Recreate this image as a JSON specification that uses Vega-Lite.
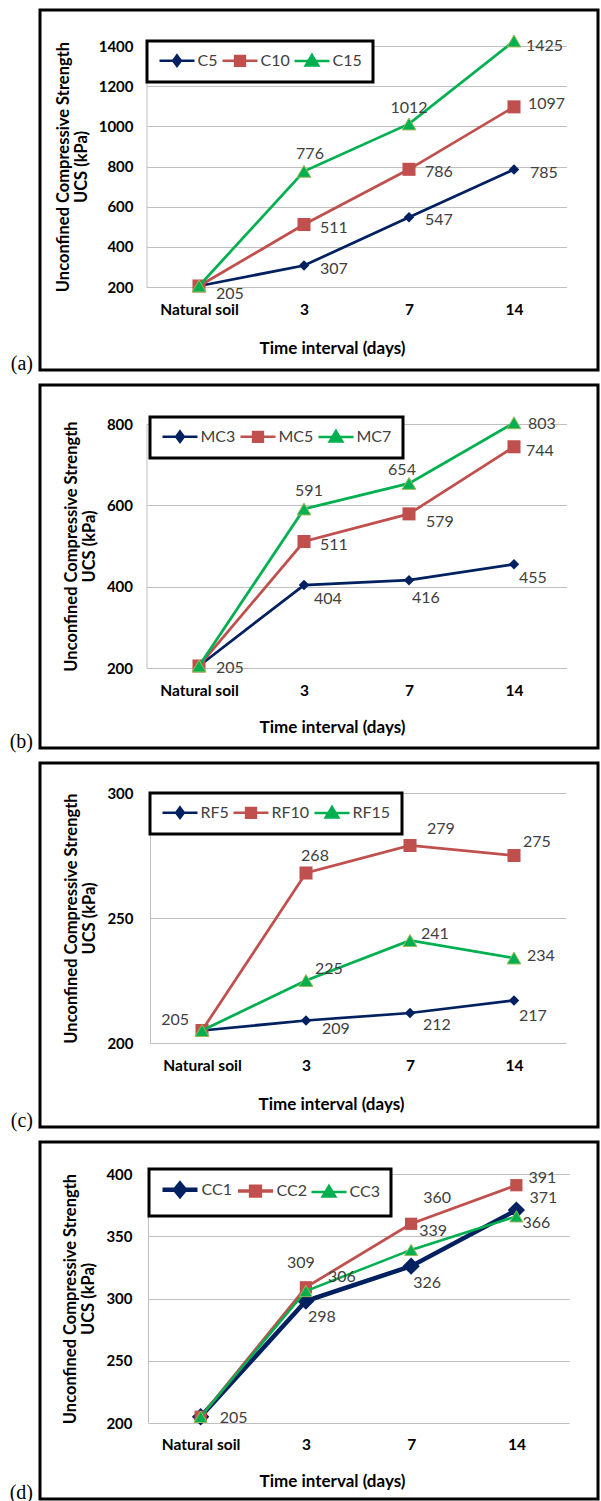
{
  "$schema": "https://vega.github.io/schema/vega-lite/v6.json",
  "padding": {"left": 8, "top": 8, "right": 0, "bottom": 0},
  "background": "white",
  "bounds": "flush",
  "spacing": 15,
  "resolve": {
    "scale": {"x": "independent", "y": "independent", "fill": "independent", "stroke": "independent", "shape": "independent", "strokeWidth": "independent"},
    "legend": {"fill": "independent", "stroke": "independent", "shape": "independent", "strokeWidth": "independent"}
  },
  "datasets": {
    "a": [
      {"s": "C5", "t": "Natural soil", "v": 205}, {"s": "C5", "t": "3", "v": 307}, {"s": "C5", "t": "7", "v": 547}, {"s": "C5", "t": "14", "v": 785},
      {"s": "C10", "t": "Natural soil", "v": 205}, {"s": "C10", "t": "3", "v": 511}, {"s": "C10", "t": "7", "v": 786}, {"s": "C10", "t": "14", "v": 1097},
      {"s": "C15", "t": "Natural soil", "v": 205}, {"s": "C15", "t": "3", "v": 776}, {"s": "C15", "t": "7", "v": 1012}, {"s": "C15", "t": "14", "v": 1425}
    ],
    "b": [
      {"s": "MC3", "t": "Natural soil", "v": 205}, {"s": "MC3", "t": "3", "v": 404}, {"s": "MC3", "t": "7", "v": 416}, {"s": "MC3", "t": "14", "v": 455},
      {"s": "MC5", "t": "Natural soil", "v": 205}, {"s": "MC5", "t": "3", "v": 511}, {"s": "MC5", "t": "7", "v": 579}, {"s": "MC5", "t": "14", "v": 744},
      {"s": "MC7", "t": "Natural soil", "v": 205}, {"s": "MC7", "t": "3", "v": 591}, {"s": "MC7", "t": "7", "v": 654}, {"s": "MC7", "t": "14", "v": 803}
    ],
    "c": [
      {"s": "RF5", "t": "Natural soil", "v": 205}, {"s": "RF5", "t": "3", "v": 209}, {"s": "RF5", "t": "7", "v": 212}, {"s": "RF5", "t": "14", "v": 217},
      {"s": "RF10", "t": "Natural soil", "v": 205}, {"s": "RF10", "t": "3", "v": 268}, {"s": "RF10", "t": "7", "v": 279}, {"s": "RF10", "t": "14", "v": 275},
      {"s": "RF15", "t": "Natural soil", "v": 205}, {"s": "RF15", "t": "3", "v": 225}, {"s": "RF15", "t": "7", "v": 241}, {"s": "RF15", "t": "14", "v": 234}
    ],
    "d": [
      {"s": "CC1", "t": "Natural soil", "v": 205}, {"s": "CC1", "t": "3", "v": 298}, {"s": "CC1", "t": "7", "v": 326}, {"s": "CC1", "t": "14", "v": 371},
      {"s": "CC2", "t": "Natural soil", "v": 205}, {"s": "CC2", "t": "3", "v": 309}, {"s": "CC2", "t": "7", "v": 360}, {"s": "CC2", "t": "14", "v": 391},
      {"s": "CC3", "t": "Natural soil", "v": 205}, {"s": "CC3", "t": "3", "v": 306}, {"s": "CC3", "t": "7", "v": 339}, {"s": "CC3", "t": "14", "v": 366}
    ]
  },
  "config": {
    "view": {"stroke": "black", "strokeWidth": 3, "fill": "white"},
    "axis": {
      "labelFont": "Lato", "labelFontWeight": "bold", "labelFontSize": 15, "labelColor": "#000000",
      "titleFont": "Lato", "titleFontWeight": "bold", "titleFontSize": 16, "titleColor": "#000000",
      "gridColor": "#BFBFBF", "gridWidth": 1, "domainColor": "#BFBFBF", "domainWidth": 1,
      "ticks": false, "tickSize": 0, "titleLineHeight": 18
    },
    "axisX": {"labelFontSize": 15.5, "titleFontSize": 17},
    "axisY": {"titleFontSize": 16.5, "format": "d"},
    "legend": {"title": null, "orient": "none", "direction": "horizontal", "padding": 11, "strokeColor": "black", "fillColor": "white", "cornerRadius": 0, "symbolSize": 196, "symbolStrokeWidth": 2.5, "symbolOffset": 10.5, "labelOffset": 12, "columnPadding": -1, "labelFont": "Lato", "labelFontSize": 16, "labelColor": "#404040", "symbolOpacity": 1},
    "text": {"font": "Lato", "fontSize": 16, "color": "#404040"},
    "title": {"font": "Liberation Serif", "fontSize": 20, "fontWeight": "normal", "color": "#000000"}
  },
  "vconcat": [
    {
      "width": 558, "height": 360,
      "title": {"text": "(a)", "orient": "left", "anchor": "start", "angle": 0, "align": "left", "baseline": "alphabetic", "offset": 7},
      "data": {"name": "a"},
      "encoding": {
        "x": {"field": "t", "type": "nominal", "sort": ["Natural soil", "3", "7", "14"],
          "scale": {"type": "point", "domain": ["Natural soil", "3", "7", "14"], "range": [106.5, 526.5], "padding": 0.5},
          "axis": {"title": "Time interval (days)", "offset": -83, "grid": false, "domain": false, "labelPadding": 15, "labelAngle": 0, "titleX": 292, "titleY": 61, "titleBaseline": "middle"}},
        "y": {"field": "v", "type": "quantitative",
          "scale": {"domain": [200, 1400], "range": [277, 36], "nice": false, "zero": false},
          "axis": {"title": ["Unconfined Compressive Strength", "UCS (kPa)"], "offset": -106.5, "values": [200, 400, 600, 800, 1000, 1200, 1400], "labelPadding": 13.5, "grid": true, "domain": true, "titlePadding": 9}}
      },
      "layer": [
        {"transform": [{"filter": "datum.s=='C5'"}], "mark": {"type": "line", "color": "#002060", "strokeWidth": 2.75}},
        {"transform": [{"filter": "datum.s=='C5'"}], "mark": {"type": "point", "shape": "diamond", "filled": true, "color": "#002060", "size": 110, "opacity": 1}},
        {"transform": [{"filter": "datum.s=='C10'"}], "mark": {"type": "line", "color": "#C0504D", "strokeWidth": 2.75}},
        {"transform": [{"filter": "datum.s=='C10'"}], "mark": {"type": "point", "shape": "square", "filled": true, "color": "#C0504D", "size": 170, "opacity": 1}},
        {"transform": [{"filter": "datum.s=='C15'"}], "mark": {"type": "line", "color": "#00B050", "strokeWidth": 2.75}},
        {"transform": [{"filter": "datum.s=='C15'"}], "mark": {"type": "point", "shape": "triangle-up", "filled": true, "fill": "#00B050", "stroke": "#9BBB59", "strokeWidth": 1, "size": 190, "opacity": 1}},
        {"transform": [{"filter": "false"}], "mark": {"type": "point", "filled": true, "strokeWidth": 2.5, "opacity": 1},
          "encoding": {
            "fill": {"field": "s", "type": "nominal", "scale": {"domain": ["C5", "C10", "C15"], "range": ["#002060", "#C0504D", "#00B050"]},
              "legend": {"legendX": 107, "legendY": 31, "encode": {"legend": {"update": {"strokeWidth": {"value": 3}}}}}},
            "stroke": {"field": "s", "type": "nominal", "scale": {"domain": ["C5", "C10", "C15"], "range": ["#002060", "#C0504D", "#00B050"]},
              "legend": {"legendX": 107, "legendY": 31, "encode": {"legend": {"update": {"strokeWidth": {"value": 3}}}}}},
            "shape": {"field": "s", "type": "nominal", "scale": {"domain": ["C5", "C10", "C15"], "range": ["M-2.5,0H2.5M0,-0.75L0.55,0L0,0.75L-0.55,0Z", "M-2.5,0H2.5M-0.7,-0.7H0.7V0.7H-0.7Z", "M-2.5,0H2.5M0,-0.85L0.9,0.65H-0.9Z"]},
              "legend": {"legendX": 107, "legendY": 31, "encode": {"legend": {"update": {"strokeWidth": {"value": 3}}}}}}
          }},
        {"transform": [{"filter": "datum.s=='C5'&&datum.t=='Natural soil'"}], "mark": {"type": "text", "align": "left", "baseline": "middle", "dx": 17, "dy": 8}, "encoding": {"text": {"field": "v"}}},
        {"transform": [{"filter": "(datum.s=='C5'&&datum.t!='Natural soil')||(datum.s=='C10'&&(datum.t=='3'||datum.t=='7'))"}], "mark": {"type": "text", "align": "left", "baseline": "middle", "dx": 16, "dy": 3}, "encoding": {"text": {"field": "v"}}},
        {"transform": [{"filter": "datum.s=='C10'&&datum.t=='14'"}], "mark": {"type": "text", "align": "left", "baseline": "middle", "dx": 14, "dy": -3}, "encoding": {"text": {"field": "v"}}},
        {"transform": [{"filter": "datum.s=='C15'&&datum.t=='3'"}], "mark": {"type": "text", "align": "center", "baseline": "middle", "dx": 6, "dy": -17}, "encoding": {"text": {"field": "v"}}},
        {"transform": [{"filter": "datum.s=='C15'&&datum.t=='7'"}], "mark": {"type": "text", "align": "center", "baseline": "middle", "dx": 0, "dy": -16}, "encoding": {"text": {"field": "v"}}},
        {"transform": [{"filter": "datum.s=='C15'&&datum.t=='14'"}], "mark": {"type": "text", "align": "left", "baseline": "middle", "dx": 12, "dy": 5}, "encoding": {"text": {"field": "v"}}}
      ]
    },
    {
      "width": 558, "height": 363,
      "title": {"text": "(b)", "orient": "left", "anchor": "start", "angle": 0, "align": "left", "baseline": "alphabetic", "offset": 7},
      "data": {"name": "b"},
      "encoding": {
        "x": {"field": "t", "type": "nominal", "sort": ["Natural soil", "3", "7", "14"],
          "scale": {"type": "point", "domain": ["Natural soil", "3", "7", "14"], "range": [106.5, 526.5], "padding": 0.5},
          "axis": {"title": "Time interval (days)", "offset": -80, "grid": false, "domain": false, "labelPadding": 15, "labelAngle": 0, "titleX": 292, "titleY": 59, "titleBaseline": "middle"}},
        "y": {"field": "v", "type": "quantitative",
          "scale": {"domain": [200, 800], "range": [283, 39], "nice": false, "zero": false},
          "axis": {"title": ["Unconfined Compressive Strength", "UCS (kPa)"], "offset": -106.5, "values": [200, 400, 600, 800], "labelPadding": 14, "grid": true, "domain": true, "titlePadding": 9}}
      },
      "layer": [
        {"transform": [{"filter": "datum.s=='MC3'"}], "mark": {"type": "line", "color": "#002060", "strokeWidth": 2.75}},
        {"transform": [{"filter": "datum.s=='MC3'"}], "mark": {"type": "point", "shape": "diamond", "filled": true, "color": "#002060", "size": 110, "opacity": 1}},
        {"transform": [{"filter": "datum.s=='MC5'"}], "mark": {"type": "line", "color": "#C0504D", "strokeWidth": 2.75}},
        {"transform": [{"filter": "datum.s=='MC5'"}], "mark": {"type": "point", "shape": "square", "filled": true, "color": "#C0504D", "size": 170, "opacity": 1}},
        {"transform": [{"filter": "datum.s=='MC7'"}], "mark": {"type": "line", "color": "#00B050", "strokeWidth": 2.75}},
        {"transform": [{"filter": "datum.s=='MC7'"}], "mark": {"type": "point", "shape": "triangle-up", "filled": true, "fill": "#00B050", "stroke": "#9BBB59", "strokeWidth": 1, "size": 190, "opacity": 1}},
        {"transform": [{"filter": "false"}], "mark": {"type": "point", "filled": true, "strokeWidth": 2.5, "opacity": 1},
          "encoding": {
            "fill": {"field": "s", "type": "nominal", "scale": {"domain": ["MC3", "MC5", "MC7"], "range": ["#002060", "#C0504D", "#00B050"]},
              "legend": {"legendX": 110, "legendY": 32, "encode": {"legend": {"update": {"strokeWidth": {"value": 3}}}}}},
            "stroke": {"field": "s", "type": "nominal", "scale": {"domain": ["MC3", "MC5", "MC7"], "range": ["#002060", "#C0504D", "#00B050"]},
              "legend": {"legendX": 110, "legendY": 32, "encode": {"legend": {"update": {"strokeWidth": {"value": 3}}}}}},
            "shape": {"field": "s", "type": "nominal", "scale": {"domain": ["MC3", "MC5", "MC7"], "range": ["M-2.5,0H2.5M0,-0.75L0.55,0L0,0.75L-0.55,0Z", "M-2.5,0H2.5M-0.7,-0.7H0.7V0.7H-0.7Z", "M-2.5,0H2.5M0,-0.85L0.9,0.65H-0.9Z"]},
              "legend": {"legendX": 110, "legendY": 32, "encode": {"legend": {"update": {"strokeWidth": {"value": 3}}}}}}
          }},
        {"transform": [{"filter": "datum.s=='MC3'&&datum.t=='Natural soil'"}], "mark": {"type": "text", "align": "left", "baseline": "middle", "dx": 17, "dy": 2}, "encoding": {"text": {"field": "v"}}},
        {"transform": [{"filter": "datum.s=='MC3'&&datum.t=='3'"}], "mark": {"type": "text", "align": "left", "baseline": "middle", "dx": 10, "dy": 14}, "encoding": {"text": {"field": "v"}}},
        {"transform": [{"filter": "datum.s=='MC3'&&datum.t=='7'"}], "mark": {"type": "text", "align": "left", "baseline": "middle", "dx": 3, "dy": 18}, "encoding": {"text": {"field": "v"}}},
        {"transform": [{"filter": "datum.s=='MC3'&&datum.t=='14'"}], "mark": {"type": "text", "align": "left", "baseline": "middle", "dx": 5, "dy": 14}, "encoding": {"text": {"field": "v"}}},
        {"transform": [{"filter": "datum.s=='MC5'&&datum.t=='3'"}], "mark": {"type": "text", "align": "left", "baseline": "middle", "dx": 16, "dy": 3}, "encoding": {"text": {"field": "v"}}},
        {"transform": [{"filter": "datum.s=='MC5'&&datum.t=='7'"}], "mark": {"type": "text", "align": "left", "baseline": "middle", "dx": 17, "dy": 8}, "encoding": {"text": {"field": "v"}}},
        {"transform": [{"filter": "datum.s=='MC5'&&datum.t=='14'"}], "mark": {"type": "text", "align": "left", "baseline": "middle", "dx": 12, "dy": 4}, "encoding": {"text": {"field": "v"}}},
        {"transform": [{"filter": "datum.s=='MC7'&&datum.t=='3'"}], "mark": {"type": "text", "align": "center", "baseline": "middle", "dx": 5, "dy": -18}, "encoding": {"text": {"field": "v"}}},
        {"transform": [{"filter": "datum.s=='MC7'&&datum.t=='7'"}], "mark": {"type": "text", "align": "center", "baseline": "middle", "dx": -7, "dy": -13}, "encoding": {"text": {"field": "v"}}},
        {"transform": [{"filter": "datum.s=='MC7'&&datum.t=='14'"}], "mark": {"type": "text", "align": "left", "baseline": "middle", "dx": 14, "dy": 1}, "encoding": {"text": {"field": "v"}}}
      ]
    },
    {
      "width": 558, "height": 364,
      "title": {"text": "(c)", "orient": "left", "anchor": "start", "angle": 0, "align": "left", "baseline": "alphabetic", "offset": 7},
      "data": {"name": "c"},
      "encoding": {
        "x": {"field": "t", "type": "nominal", "sort": ["Natural soil", "3", "7", "14"],
          "scale": {"type": "point", "domain": ["Natural soil", "3", "7", "14"], "range": [110, 526], "padding": 0.5},
          "axis": {"title": "Time interval (days)", "offset": -84, "grid": false, "domain": false, "labelPadding": 15, "labelAngle": 0, "titleX": 291, "titleY": 61, "titleBaseline": "middle"}},
        "y": {"field": "v", "type": "quantitative",
          "scale": {"domain": [200, 300], "range": [280, 30], "nice": false, "zero": false},
          "axis": {"title": ["Unconfined Compressive Strength", "UCS (kPa)"], "offset": -110, "values": [200, 250, 300], "labelPadding": 17, "grid": true, "domain": true, "titlePadding": 9}}
      },
      "layer": [
        {"transform": [{"filter": "datum.s=='RF5'"}], "mark": {"type": "line", "color": "#002060", "strokeWidth": 2.75}},
        {"transform": [{"filter": "datum.s=='RF5'"}], "mark": {"type": "point", "shape": "diamond", "filled": true, "color": "#002060", "size": 110, "opacity": 1}},
        {"transform": [{"filter": "datum.s=='RF10'"}], "mark": {"type": "line", "color": "#C0504D", "strokeWidth": 2.75}},
        {"transform": [{"filter": "datum.s=='RF10'"}], "mark": {"type": "point", "shape": "square", "filled": true, "color": "#C0504D", "size": 170, "opacity": 1}},
        {"transform": [{"filter": "datum.s=='RF15'"}], "mark": {"type": "line", "color": "#00B050", "strokeWidth": 2.75}},
        {"transform": [{"filter": "datum.s=='RF15'"}], "mark": {"type": "point", "shape": "triangle-up", "filled": true, "fill": "#00B050", "stroke": "#9BBB59", "strokeWidth": 1, "size": 190, "opacity": 1}},
        {"transform": [{"filter": "false"}], "mark": {"type": "point", "filled": true, "strokeWidth": 2.5, "opacity": 1},
          "encoding": {
            "fill": {"field": "s", "type": "nominal", "scale": {"domain": ["RF5", "RF10", "RF15"], "range": ["#002060", "#C0504D", "#00B050"]},
              "legend": {"legendX": 110, "legendY": 30, "encode": {"legend": {"update": {"strokeWidth": {"value": 3}}}}}},
            "stroke": {"field": "s", "type": "nominal", "scale": {"domain": ["RF5", "RF10", "RF15"], "range": ["#002060", "#C0504D", "#00B050"]},
              "legend": {"legendX": 110, "legendY": 30, "encode": {"legend": {"update": {"strokeWidth": {"value": 3}}}}}},
            "shape": {"field": "s", "type": "nominal", "scale": {"domain": ["RF5", "RF10", "RF15"], "range": ["M-2.5,0H2.5M0,-0.75L0.55,0L0,0.75L-0.55,0Z", "M-2.5,0H2.5M-0.7,-0.7H0.7V0.7H-0.7Z", "M-2.5,0H2.5M0,-0.85L0.9,0.65H-0.9Z"]},
              "legend": {"legendX": 110, "legendY": 30, "encode": {"legend": {"update": {"strokeWidth": {"value": 3}}}}}}
          }},
        {"transform": [{"filter": "datum.s=='RF5'&&datum.t=='Natural soil'"}], "mark": {"type": "text", "align": "right", "baseline": "middle", "dx": -13, "dy": -11}, "encoding": {"text": {"field": "v"}}},
        {"transform": [{"filter": "datum.s=='RF5'&&datum.t=='3'"}], "mark": {"type": "text", "align": "left", "baseline": "middle", "dx": 16, "dy": 8}, "encoding": {"text": {"field": "v"}}},
        {"transform": [{"filter": "datum.s=='RF5'&&datum.t=='7'"}], "mark": {"type": "text", "align": "left", "baseline": "middle", "dx": 13, "dy": 12}, "encoding": {"text": {"field": "v"}}},
        {"transform": [{"filter": "datum.s=='RF5'&&datum.t=='14'"}], "mark": {"type": "text", "align": "left", "baseline": "middle", "dx": 5, "dy": 15}, "encoding": {"text": {"field": "v"}}},
        {"transform": [{"filter": "datum.s=='RF10'&&datum.t=='3'"}], "mark": {"type": "text", "align": "center", "baseline": "middle", "dx": 9, "dy": -17}, "encoding": {"text": {"field": "v"}}},
        {"transform": [{"filter": "datum.s=='RF10'&&datum.t=='7'"}], "mark": {"type": "text", "align": "left", "baseline": "middle", "dx": 17, "dy": -17}, "encoding": {"text": {"field": "v"}}},
        {"transform": [{"filter": "datum.s=='RF10'&&datum.t=='14'"}], "mark": {"type": "text", "align": "left", "baseline": "middle", "dx": 9, "dy": -14}, "encoding": {"text": {"field": "v"}}},
        {"transform": [{"filter": "datum.s=='RF15'&&datum.t=='3'"}], "mark": {"type": "text", "align": "left", "baseline": "middle", "dx": 9, "dy": -12}, "encoding": {"text": {"field": "v"}}},
        {"transform": [{"filter": "datum.s=='RF15'&&datum.t=='7'"}], "mark": {"type": "text", "align": "left", "baseline": "middle", "dx": 11, "dy": -7}, "encoding": {"text": {"field": "v"}}},
        {"transform": [{"filter": "datum.s=='RF15'&&datum.t=='14'"}], "mark": {"type": "text", "align": "left", "baseline": "middle", "dx": 13, "dy": -2}, "encoding": {"text": {"field": "v"}}}
      ]
    },
    {
      "width": 558, "height": 357,
      "title": {"text": "(d)", "orient": "left", "anchor": "start", "angle": 0, "align": "left", "baseline": "alphabetic", "offset": 7},
      "data": {"name": "d"},
      "encoding": {
        "x": {"field": "t", "type": "nominal", "sort": ["Natural soil", "3", "7", "14"],
          "scale": {"type": "point", "domain": ["Natural soil", "3", "7", "14"], "range": [108, 529], "padding": 0.5},
          "axis": {"title": "Time interval (days)", "offset": -76, "grid": false, "domain": false, "labelPadding": 14, "labelAngle": 0, "titleX": 292, "titleY": 58, "titleBaseline": "middle"}},
        "y": {"field": "v", "type": "quantitative",
          "scale": {"domain": [200, 400], "range": [281, 32], "nice": false, "zero": false},
          "axis": {"title": ["Unconfined Compressive Strength", "UCS (kPa)"], "offset": -108, "values": [200, 250, 300, 350, 400], "labelPadding": 16, "grid": true, "domain": true, "titlePadding": 9}}
      },
      "layer": [
        {"transform": [{"filter": "datum.s=='CC1'"}], "mark": {"type": "line", "color": "#002060", "strokeWidth": 4.5}},
        {"transform": [{"filter": "datum.s=='CC1'"}], "mark": {"type": "point", "shape": "diamond", "filled": true, "color": "#002060", "size": 300, "opacity": 1}},
        {"transform": [{"filter": "datum.s=='CC2'"}], "mark": {"type": "line", "color": "#C0504D", "strokeWidth": 2.75}},
        {"transform": [{"filter": "datum.s=='CC2'"}], "mark": {"type": "point", "shape": "square", "filled": true, "color": "#C0504D", "size": 150, "opacity": 1}},
        {"transform": [{"filter": "datum.s=='CC3'"}], "mark": {"type": "line", "color": "#00B050", "strokeWidth": 2.5}},
        {"transform": [{"filter": "datum.s=='CC3'"}], "mark": {"type": "point", "shape": "triangle-up", "filled": true, "fill": "#00B050", "stroke": "#9BBB59", "strokeWidth": 1, "size": 170, "opacity": 1}},
        {"transform": [{"filter": "false"}], "mark": {"type": "point", "filled": true, "strokeWidth": 2.5, "opacity": 1},
          "encoding": {
            "fill": {"field": "s", "type": "nominal", "scale": {"domain": ["CC1", "CC2", "CC3"], "range": ["#002060", "#C0504D", "#00B050"]},
              "legend": {"legendX": 109, "legendY": 27, "encode": {"legend": {"update": {"strokeWidth": {"value": 3}}}}}},
            "stroke": {"field": "s", "type": "nominal", "scale": {"domain": ["CC1", "CC2", "CC3"], "range": ["#002060", "#C0504D", "#00B050"]},
              "legend": {"legendX": 109, "legendY": 27, "encode": {"legend": {"update": {"strokeWidth": {"value": 3}}}}}},
            "strokeWidth": {"field": "s", "type": "ordinal", "scale": {"domain": ["CC1", "CC2", "CC3"], "range": [4.5, 2.5, 2.5]},
              "legend": {"legendX": 109, "legendY": 27, "encode": {"legend": {"update": {"strokeWidth": {"value": 3}}}}}},
            "shape": {"field": "s", "type": "nominal", "scale": {"domain": ["CC1", "CC2", "CC3"], "range": ["M-2.5,0H2.5M0,-0.85L0.7,0L0,0.85L-0.7,0Z", "M-2.5,0H2.5M-0.7,-0.7H0.7V0.7H-0.7Z", "M-2.5,0H2.5M0,-0.85L0.9,0.65H-0.9Z"]},
              "legend": {"legendX": 109, "legendY": 27, "encode": {"legend": {"update": {"strokeWidth": {"value": 3}}}}}}
          }},
        {"transform": [{"filter": "datum.s=='CC1'&&datum.t=='Natural soil'"}], "mark": {"type": "text", "align": "left", "baseline": "middle", "dx": 19, "dy": 1}, "encoding": {"text": {"field": "v"}}},
        {"transform": [{"filter": "datum.s=='CC1'&&datum.t=='3'"}], "mark": {"type": "text", "align": "left", "baseline": "middle", "dx": 2, "dy": 16}, "encoding": {"text": {"field": "v"}}},
        {"transform": [{"filter": "datum.s=='CC1'&&datum.t=='7'"}], "mark": {"type": "text", "align": "left", "baseline": "middle", "dx": 2, "dy": 17}, "encoding": {"text": {"field": "v"}}},
        {"transform": [{"filter": "datum.s=='CC1'&&datum.t=='14'"}], "mark": {"type": "text", "align": "left", "baseline": "middle", "dx": 13, "dy": -12}, "encoding": {"text": {"field": "v"}}},
        {"transform": [{"filter": "datum.s=='CC2'&&datum.t=='3'"}], "mark": {"type": "text", "align": "center", "baseline": "middle", "dx": -5, "dy": -24}, "encoding": {"text": {"field": "v"}}},
        {"transform": [{"filter": "datum.s=='CC2'&&datum.t=='7'"}], "mark": {"type": "text", "align": "left", "baseline": "middle", "dx": 12, "dy": -26}, "encoding": {"text": {"field": "v"}}},
        {"transform": [{"filter": "datum.s=='CC2'&&datum.t=='14'"}], "mark": {"type": "text", "align": "left", "baseline": "middle", "dx": 12, "dy": -7}, "encoding": {"text": {"field": "v"}}},
        {"transform": [{"filter": "datum.s=='CC3'&&datum.t=='3'"}], "mark": {"type": "text", "align": "left", "baseline": "middle", "dx": 22, "dy": -14}, "encoding": {"text": {"field": "v"}}},
        {"transform": [{"filter": "datum.s=='CC3'&&datum.t=='7'"}], "mark": {"type": "text", "align": "left", "baseline": "middle", "dx": 8, "dy": -19}, "encoding": {"text": {"field": "v"}}},
        {"transform": [{"filter": "datum.s=='CC3'&&datum.t=='14'"}], "mark": {"type": "text", "align": "left", "baseline": "middle", "dx": 6, "dy": 7}, "encoding": {"text": {"field": "v"}}}
      ]
    }
  ]
}
